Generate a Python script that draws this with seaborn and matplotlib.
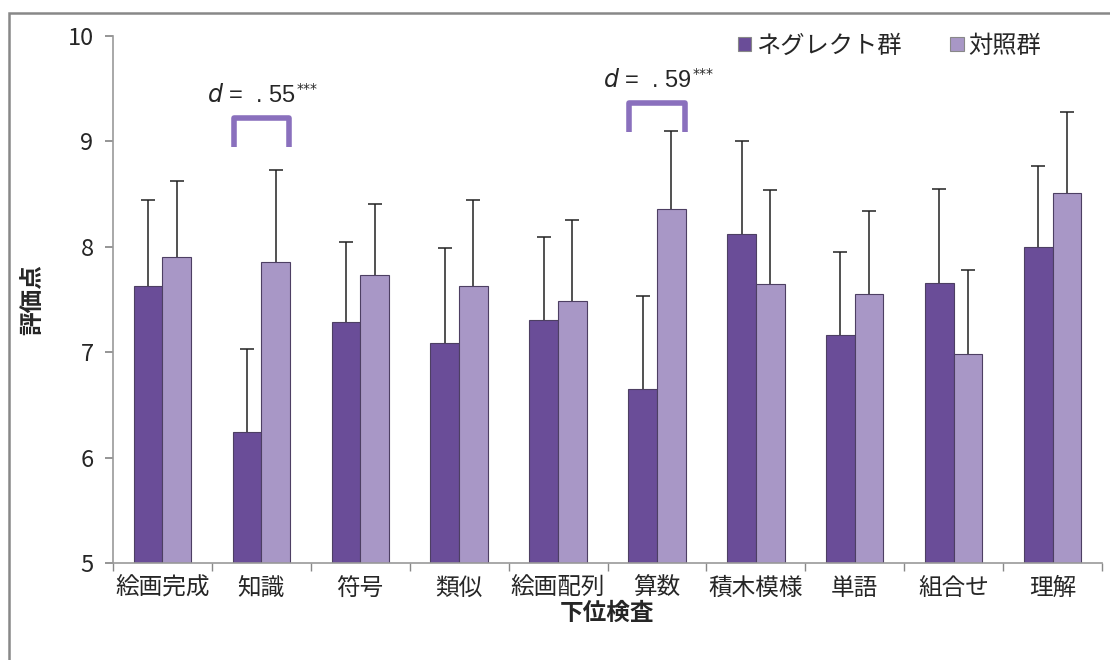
import matplotlib
matplotlib.use("Agg")
import matplotlib.pyplot as plt
import seaborn as sns
import pandas as pd
from matplotlib.patches import Rectangle

categories = ["絵画完成", "知識", "符号", "類似", "絵画配列", "算数", "積木模様", "単語", "組合せ", "理解"]
groups = ["ネグレクト群", "対照群"]
neglect_mean = [7.63, 6.24, 7.29, 7.09, 7.31, 6.65, 8.12, 7.16, 7.66, 8.00]
neglect_sd = [0.81, 0.79, 0.76, 0.90, 0.78, 0.88, 0.88, 0.79, 0.89, 0.77]
control_mean = [7.90, 7.86, 7.73, 7.63, 7.49, 8.36, 7.65, 7.55, 6.98, 8.51]
control_sd = [0.72, 0.87, 0.68, 0.81, 0.76, 0.74, 0.89, 0.79, 0.80, 0.77]
yticks = [5, 6, 7, 8, 9, 10]
effects = [("知識", ".55", 9.22), ("算数", ".59", 9.36)]

colors = ["#6a4d98", "#a897c6"]

df = pd.DataFrame({
    "検査": categories * 2,
    "評価点": neglect_mean + control_mean,
    "群": [groups[0]] * len(categories) + [groups[1]] * len(categories),
})

sns.set_theme(style="white")
plt.rcParams["font.family"] = ["Noto Sans CJK JP", "DejaVu Sans"]

fig = plt.figure(figsize=(11.1, 6.6), dpi=100)
ax = fig.add_axes([113 / 1110, 1 - 563 / 660, (1102 - 113) / 1110, (563 - 36) / 660])

sns.barplot(data=df, x="検査", y="評価点", hue="群", order=categories, hue_order=groups,
            palette=colors, saturation=1, width=0.58, ax=ax, errorbar=None,
            edgecolor="#4d3f63", linewidth=0.8, zorder=2)

for cont, sds in zip(ax.containers, [neglect_sd, control_sd]):
    for patch, sd in zip(cont.patches, sds):
        xc = patch.get_x() + patch.get_width() / 2
        top = patch.get_height()
        ax.errorbar(xc, top, yerr=[[0.05], [sd]], fmt="none", ecolor="#222222",
                    elinewidth=1.1, capsize=5, capthick=1.1, zorder=1)

ax.set_ylim(5, 10)
ax.set_xlim(-0.5, len(categories) - 0.5)
ax.set_yticks(yticks)
ax.set_yticklabels([str(t) for t in yticks], fontsize=17)
ax.tick_params(axis="y", length=6, color="#888888", left=True, pad=8)
ax.tick_params(axis="x", length=0, labelsize=17, pad=10)
ax.set_xticks([i - 0.5 for i in range(len(categories) + 1)], minor=True)
ax.tick_params(axis="x", which="minor", length=6, color="#888888", bottom=True)
for s in ["top", "right"]:
    ax.spines[s].set_visible(False)
for s in ["left", "bottom"]:
    ax.spines[s].set_color("#999999")
    ax.spines[s].set_linewidth(1.2)

ax.set_xlabel("下位検査", fontsize=17, fontweight="bold", labelpad=1)
ax.set_ylabel("評価点", fontsize=17, fontweight="bold")
ax.yaxis.set_label_coords(-0.069, 0.5)

# effect size brackets
for cat, val, ytop in effects:
    xi = categories.index(cat)
    hw = 0.28
    ax.plot([xi - hw, xi - hw, xi + hw, xi + hw], [ytop - 0.27, ytop, ytop, ytop - 0.27],
            color="#8a70bd", lw=4, solid_joinstyle="round", solid_capstyle="butt",
            clip_on=False, zorder=5)
    anchor = xi + 0.35
    ax.text(anchor, ytop + 0.22, r"$\it{d}$ =  " + val.replace(".", ". "),
            ha="right", va="center", fontsize=17, family=["Liberation Sans", "DejaVu Sans"],
            clip_on=False)
    ax.text(anchor + 0.01, ytop + 0.28, "***", ha="left", va="center", fontsize=10,
            family=["DejaVu Sans"], clip_on=False)

leg = ax.legend(loc="center left", bbox_to_anchor=(0.622, 0.982), ncol=2, frameon=False,
                fontsize=17.5, handlelength=0.55, handleheight=0.55, handletextpad=0.2,
                columnspacing=2.0, borderaxespad=0)
for h in leg.legend_handles:
    h.set_edgecolor("#888888")

fig.patches.append(Rectangle((9 / 1110, -0.05), 1.2, 1 - 13 / 660 + 0.05,
                             transform=fig.transFigure, fill=False,
                             edgecolor="#888888", linewidth=1.8, zorder=0))

fig.savefig("out.png", dpi=100)
